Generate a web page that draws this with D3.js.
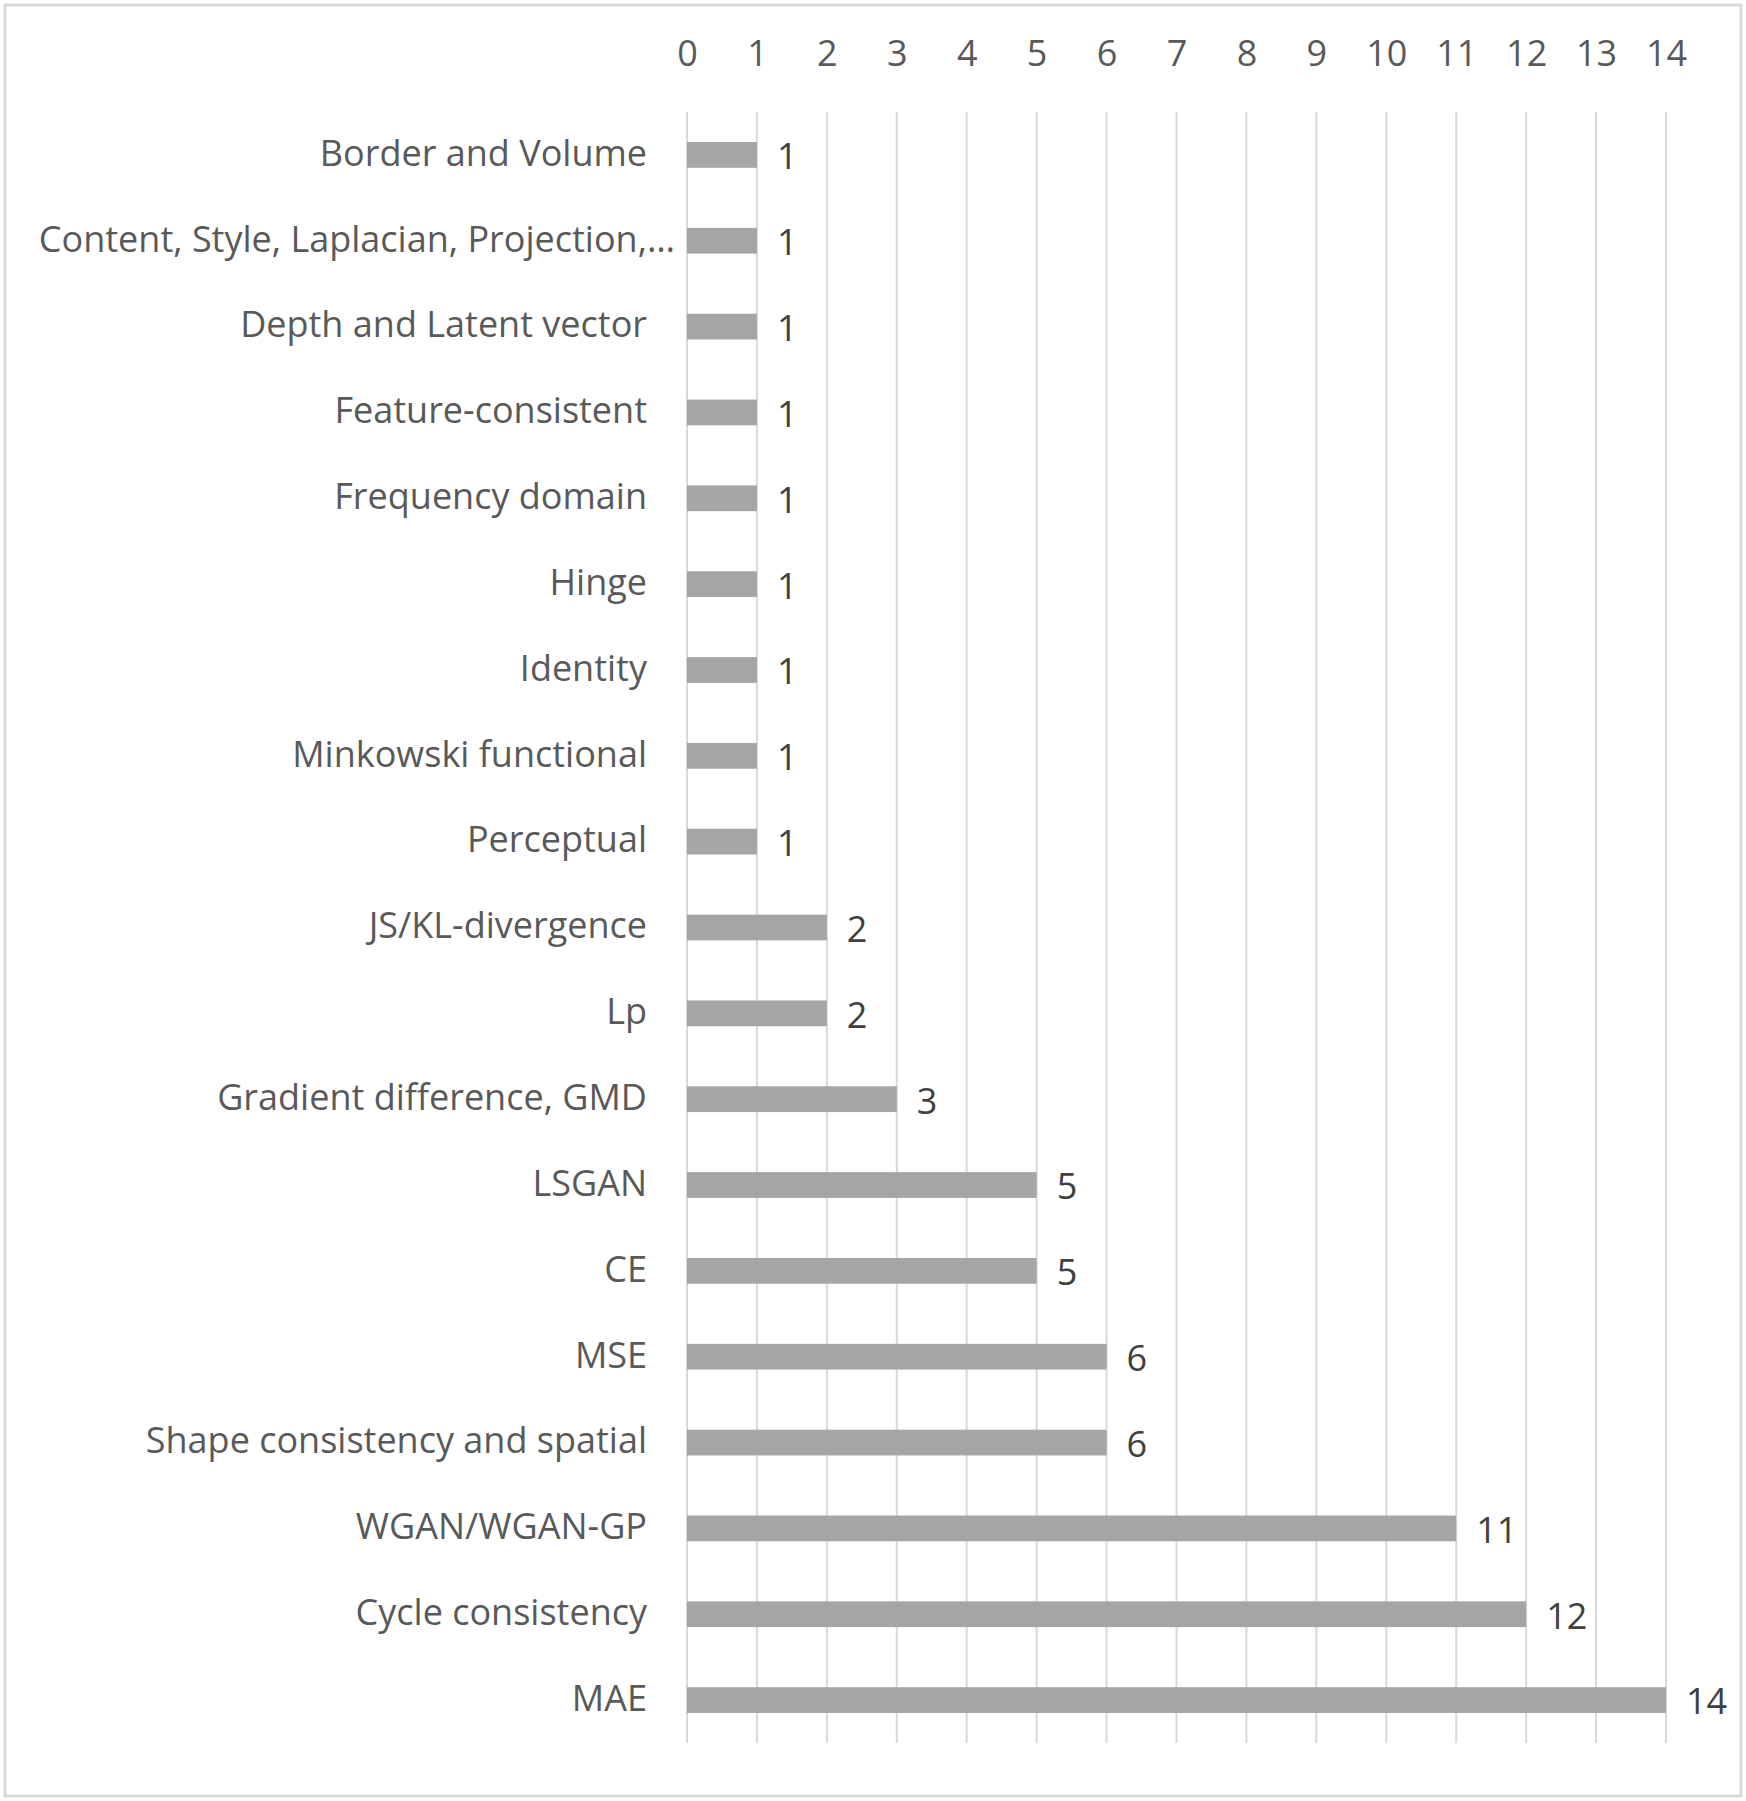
<!DOCTYPE html>
<html>
<head>
<meta charset="utf-8">
<script src="https://cdn.jsdelivr.net/npm/d3@7"></script>
<style>
  body { margin: 0; background: #fff; }
  text { font-family: "Open Sans", "Noto Sans", sans-serif; }
</style>
</head>
<body>
<div id="chart"></div>
<script>
// loss function categories, top to bottom
const categories = [
    "Border and Volume",
    "Content, Style, Laplacian, Projection,…",
    "Depth and Latent vector",
    "Feature-consistent",
    "Frequency domain",
    "Hinge",
    "Identity",
    "Minkowski functional",
    "Perceptual",
    "JS/KL-divergence",
    "Lp",
    "Gradient difference, GMD",
    "LSGAN",
    "CE",
    "MSE",
    "Shape consistency and spatial",
    "WGAN/WGAN-GP",
    "Cycle consistency",
    "MAE"
];
const counts = [1, 1, 1, 1, 1, 1, 1, 1, 1, 2, 2, 3, 5, 5, 6, 6, 11, 12, 14];
const tickValues = [0, 1, 2, 3, 4, 5, 6, 7, 8, 9, 10, 11, 12, 13, 14];

const cfg = {
    width: 1746,
    height: 1801,
    left: 687,
    right: 1666,
    top: 112,
    bottom: 1743,
    fontSize: 36,
    textColor: "#595959",
    barColor: "#a5a5a5",
    gridColor: "#d9d9d9"
};

const svg = d3.select("#chart")
    .append("svg")
    .attr("width", cfg.width)
    .attr("height", cfg.height);

// outer chart border
svg.append("rect")
    .attr("x", 5).attr("y", 5)
    .attr("width", cfg.width - 10).attr("height", cfg.height - 10)
    .attr("fill", "#fff")
    .attr("stroke", cfg.gridColor)
    .attr("stroke-width", 3);

const x = d3.scaleLinear()
    .domain([0, 14])
    .range([cfg.left, cfg.right]);

const y = d3.scaleBand()
    .domain(categories)
    .range([cfg.top, cfg.bottom])
    .paddingInner(0.7)
    .paddingOuter(0.35);

// vertical gridlines
svg.append("g")
    .selectAll("line")
    .data(tickValues)
    .join("line")
    .attr("x1", d => x(d)).attr("x2", d => x(d))
    .attr("y1", cfg.top).attr("y2", cfg.bottom)
    .attr("stroke", cfg.gridColor)
    .attr("stroke-width", 2);

// top axis labels
const xAxis = svg.append("g")
    .attr("transform", "translate(0,66)")
    .call(d3.axisTop(x).tickValues(tickValues).tickSize(0).tickPadding(0));
xAxis.select(".domain").remove();
xAxis.selectAll("text")
    .attr("fill", cfg.textColor)
    .style("font-size", cfg.fontSize + "px")
    .style("font-family", '"Open Sans", "Noto Sans", sans-serif');

// left category labels (truncated ones run a bit closer to the axis, like Excel)
const yAxis = svg.append("g")
    .attr("transform", "translate(" + (cfg.left - 40) + ",0)")
    .call(d3.axisLeft(y).tickSize(0).tickPadding(0));
yAxis.select(".domain").remove();
yAxis.selectAll("text")
    .attr("fill", cfg.textColor)
    .attr("dy", "0.3em")
    .attr("dx", d => d.endsWith("…") ? 28 : 0)
    .style("font-size", cfg.fontSize + "px")
    .style("font-family", '"Open Sans", "Noto Sans", sans-serif');

// bars
svg.append("g")
    .selectAll("rect")
    .data(counts)
    .join("rect")
    .attr("x", x(0))
    .attr("y", (d, i) => y(categories[i]))
    .attr("width", d => x(d) - x(0))
    .attr("height", y.bandwidth())
    .attr("fill", cfg.barColor);

// value labels
svg.append("g")
    .selectAll("text")
    .data(counts)
    .join("text")
    .attr("x", d => x(d) + 20)
    .attr("y", (d, i) => y(categories[i]) + y.bandwidth() / 2)
    .attr("dy", "0.4em")
    .attr("fill", "#404040")
    .style("font-size", cfg.fontSize + "px")
    .text(d => d);
</script>
</body>
</html>
